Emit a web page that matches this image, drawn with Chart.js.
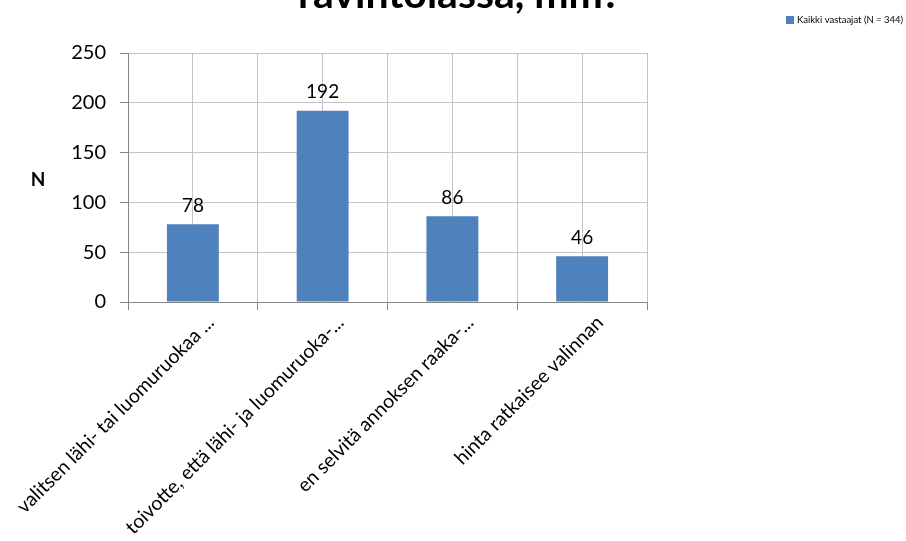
<!DOCTYPE html>
<html>
<head>
<meta charset="utf-8">
<title>Kaikki vastaajat</title>
<script src="https://cdn.jsdelivr.net/npm/chart.js@4"></script>
<style>
  body { margin: 0; background: #fff; }
  canvas { display: block; }
</style>
</head>
<body>
<canvas id="chart" width="906" height="541"></canvas>
<script>
// Chart data
const categories = [
  "valitsen lähi- tai luomuruokaa ...",
  "toivotte, että lähi- ja luomuruoka-...",
  "en selvitä annoksen raaka-...",
  "hinta ratkaisee valinnan"
];
const respondents = [78, 192, 86, 46];
const seriesName = "Kaikki vastaajat (N = 344)";
const titleText = "ravintolassa, mm?";
const yTicks = [0, 50, 100, 150, 200, 250];

const FONT = "Lato, 'Open Sans', sans-serif";
const BAR_COLOR = "#4f81bd";

// Draws the clipped title, the legend, the "N" axis title and the value labels
const extrasPlugin = {
  id: "extras",
  afterDatasetsDraw(chart) {
    const ctx = chart.ctx;
    const meta = chart.getDatasetMeta(0);
    ctx.save();
    ctx.fillStyle = "#000";
    ctx.font = "19px " + FONT;
    ctx.textAlign = "center";
    ctx.textBaseline = "bottom";
    meta.data.forEach((bar, i) => {
      ctx.fillText(String(respondents[i]), bar.x, bar.y - 9);
    });
    ctx.restore();
  },
  afterDraw(chart) {
    const ctx = chart.ctx;
    ctx.save();
    // title, mostly cut off at the top edge
    ctx.fillStyle = "#000";
    ctx.font = "bold 41px " + FONT;
    ctx.textAlign = "left";
    ctx.textBaseline = "alphabetic";
    ctx.fillText(titleText, 298, 8);

    // y axis title
    ctx.font = "bold 19px " + FONT;
    ctx.textAlign = "center";
    ctx.textBaseline = "middle";
    ctx.fillText("N", 38, 180);

    // legend
    ctx.fillStyle = BAR_COLOR;
    ctx.fillRect(786, 16, 8, 8);
    ctx.fillStyle = "#000";
    ctx.font = "9.5px " + FONT;
    ctx.textAlign = "left";
    ctx.fillText(seriesName, 797, 20);
    ctx.restore();
  }
};

const ctx = document.getElementById("chart").getContext("2d");
new Chart(ctx, {
  type: "bar",
  data: {
    labels: categories,
    datasets: [
      {
        label: seriesName,
        data: respondents,
        backgroundColor: BAR_COLOR,
        borderWidth: 0,
        categoryPercentage: 1,
        barPercentage: 0.4,
        xAxisID: "x",
        yAxisID: "y"
      }
    ]
  },
  options: {
    responsive: false,
    animation: false,
    layout: { padding: { left: 0, right: 259, top: 53, bottom: 0 } },
    plugins: {
      legend: { display: false },
      tooltip: { enabled: false }
    },
    scales: {
      x: {
        position: "bottom",
        offset: true,
        grid: {
          offset: true,
          color: "#c4c4c4",
          tickColor: "#868686",
          tickLength: 8
        },
        border: { color: "#868686" },
        ticks: {
          font: { family: FONT, size: 19.5 },
          color: "#000",
          minRotation: 45,
          maxRotation: 45,
          autoSkip: false,
          labelOffset: 18,
          padding: 1
        },
        afterFit(scale) {
          scale.height = 239;
          // the long rotated labels may reach into the y axis area
          scale.paddingLeft = 0;
          scale.paddingRight = 0;
        }
      },
      // second category axis only to draw grid lines through the bar centres
      x2: {
        position: "top",
        offset: true,
        labels: categories,
        grid: { offset: false, color: "#c4c4c4", drawTicks: false },
        border: { display: false },
        ticks: { display: false },
        afterFit(scale) {
          scale.height = 0;
          scale.paddingLeft = 0;
          scale.paddingRight = 0;
        }
      },
      y: {
        min: 0,
        max: 250,
        afterBuildTicks(scale) {
          scale.ticks = yTicks.map((v) => ({ value: v }));
        },
        grid: {
          color: "#c4c4c4",
          tickColor: "#868686",
          tickLength: 8
        },
        border: { color: "#868686" },
        ticks: {
          font: { family: FONT, size: 20 },
          color: "#000",
          padding: 14
        },
        afterFit(scale) { scale.width = 128; }
      }
    }
  },
  plugins: [extrasPlugin]
});
</script>
</body>
</html>
